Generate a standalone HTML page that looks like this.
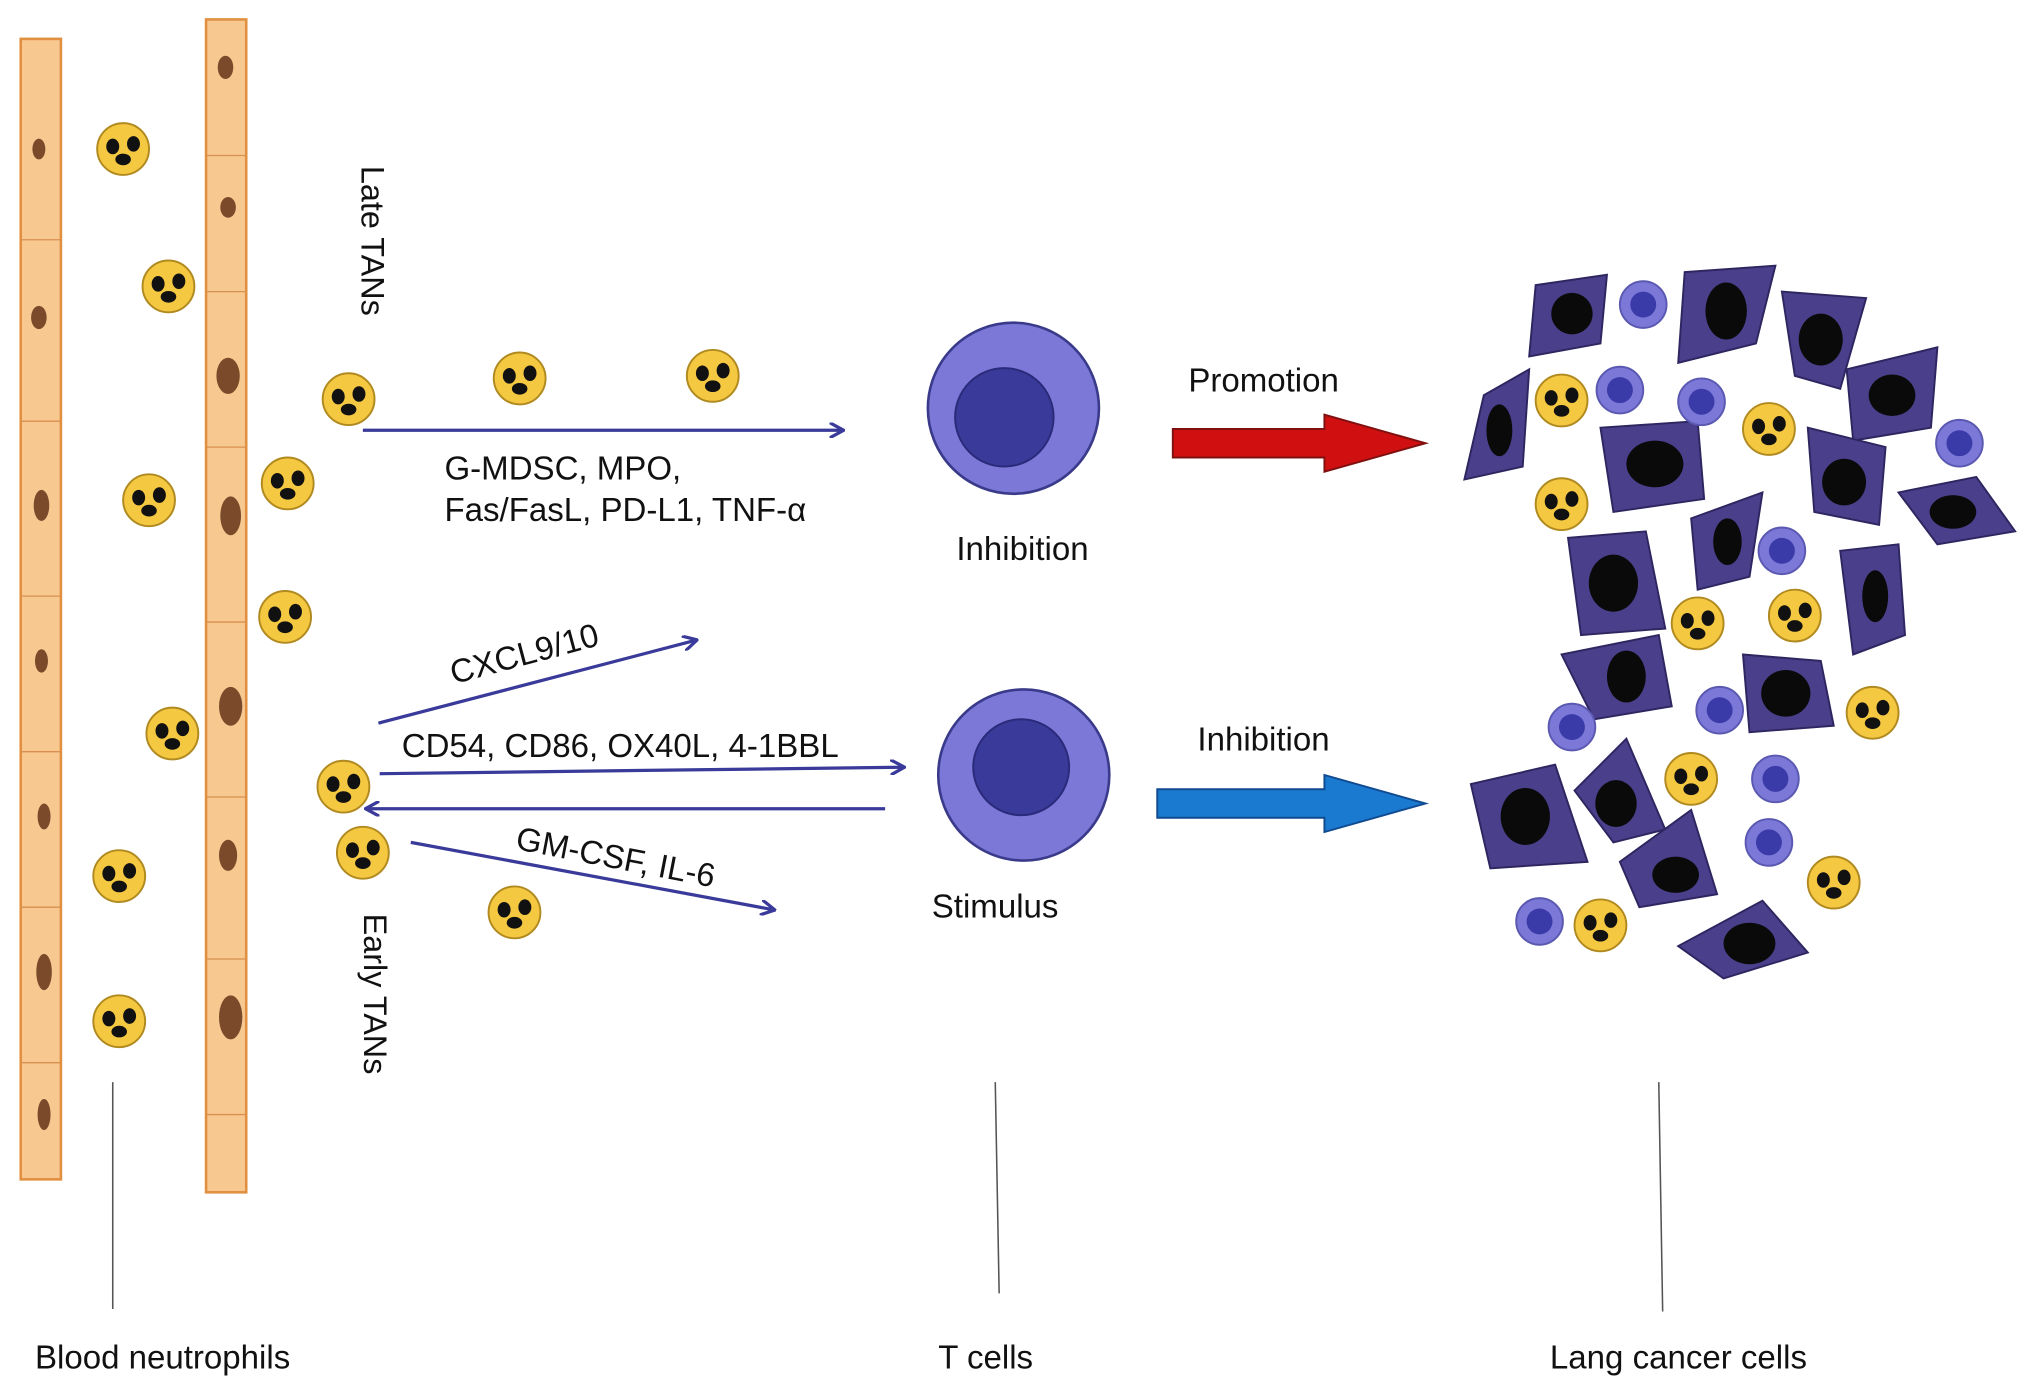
<!DOCTYPE html>
<html><head><meta charset="utf-8"><style>
html,body{margin:0;padding:0;background:#fff;}
svg{display:block;}
text{font-family:"Liberation Sans",sans-serif;fill:#111;}
</style></head><body>
<svg width="2032" height="1388" viewBox="0 0 1568 1071" preserveAspectRatio="none" xmlns="http://www.w3.org/2000/svg">
<defs>
<marker id="ah" markerWidth="12" markerHeight="12" refX="10" refY="6" orient="auto" markerUnits="userSpaceOnUse">
<path d="M0,0 L11,6 L0,12" fill="none" stroke="#3a3a9a" stroke-width="2.5"/>
</marker>
<g id="neu">
<circle r="20" fill="#f5c842" stroke="#b08a20" stroke-width="1.5"/>
<ellipse cx="-8" cy="-2" rx="5" ry="6" fill="#111"/>
<ellipse cx="8" cy="-4" rx="5" ry="6" fill="#111"/>
<ellipse cx="0" cy="8" rx="6" ry="4.5" fill="#111"/>
</g>
<g id="tc">
<circle r="18" fill="#7b78d8" stroke="#5a58b0" stroke-width="1.5"/>
<circle r="10" fill="#3a3aa8"/>
</g>
</defs>
<rect width="1568" height="1071" fill="#fff"/>
<g stroke="#e09040" stroke-width="2">
<rect x="16" y="30" width="31" height="880" fill="#f8c891"/>
<rect x="159" y="15" width="31" height="905" fill="#f8c891"/>
</g>
<g stroke="#d89050" stroke-width="1">
<line x1="16" y1="185" x2="47" y2="185"/><line x1="16" y1="325" x2="47" y2="325"/><line x1="16" y1="460" x2="47" y2="460"/><line x1="16" y1="580" x2="47" y2="580"/><line x1="16" y1="700" x2="47" y2="700"/><line x1="16" y1="820" x2="47" y2="820"/>
<line x1="159" y1="120" x2="190" y2="120"/><line x1="159" y1="225" x2="190" y2="225"/><line x1="159" y1="345" x2="190" y2="345"/><line x1="159" y1="480" x2="190" y2="480"/><line x1="159" y1="615" x2="190" y2="615"/><line x1="159" y1="740" x2="190" y2="740"/><line x1="159" y1="860" x2="190" y2="860"/>
</g>
<g fill="#7a4a2a">
<ellipse cx="30" cy="115" rx="5" ry="8"/><ellipse cx="30" cy="245" rx="6" ry="9"/><ellipse cx="32" cy="390" rx="6" ry="12"/><ellipse cx="32" cy="510" rx="5" ry="9"/><ellipse cx="34" cy="630" rx="5" ry="10"/><ellipse cx="34" cy="750" rx="6" ry="14"/><ellipse cx="34" cy="860" rx="5" ry="12"/>
<ellipse cx="174" cy="52" rx="6" ry="9"/><ellipse cx="176" cy="160" rx="6" ry="8"/><ellipse cx="176" cy="290" rx="9" ry="14"/><ellipse cx="178" cy="398" rx="8" ry="15"/><ellipse cx="178" cy="545" rx="9" ry="15"/><ellipse cx="176" cy="660" rx="7" ry="12"/><ellipse cx="178" cy="785" rx="9" ry="17"/>
</g>
<use href="#neu" x="95" y="115"/><use href="#neu" x="130" y="221"/><use href="#neu" x="269" y="308"/><use href="#neu" x="401" y="292"/><use href="#neu" x="550" y="290"/><use href="#neu" x="115" y="386"/><use href="#neu" x="222" y="373"/><use href="#neu" x="220" y="476"/><use href="#neu" x="133" y="566"/><use href="#neu" x="265" y="607"/><use href="#neu" x="280" y="658"/><use href="#neu" x="92" y="676"/><use href="#neu" x="397" y="704"/><use href="#neu" x="92" y="788"/>
<text transform="translate(279,128) rotate(90)" font-size="25">Late TANs</text>
<text transform="translate(281,705) rotate(90)" font-size="25">Early TANs</text>
<g stroke="#3a3a9a" stroke-width="2.5" fill="none">
<line x1="280" y1="332" x2="650" y2="332" marker-end="url(#ah)"/>
<line x1="292" y1="558" x2="537" y2="494" marker-end="url(#ah)"/>
<line x1="293" y1="597" x2="697" y2="592" marker-end="url(#ah)"/>
<line x1="683" y1="624" x2="283" y2="624" marker-end="url(#ah)"/>
<line x1="317" y1="650" x2="597" y2="702" marker-end="url(#ah)"/>
</g>
<text x="343" y="370" font-size="25.5">G-MDSC, MPO,</text>
<text x="343" y="402" font-size="25.5">Fas/FasL, PD-L1, TNF-α</text>
<text transform="translate(350,528) rotate(-15)" font-size="25.5">CXCL9/10</text>
<text x="310" y="584" font-size="25.5">CD54, CD86, OX40L, 4-1BBL</text>
<text transform="translate(397,655) rotate(11)" font-size="25.5">GM-CSF, IL-6</text>
<circle cx="782" cy="315" r="66" fill="#7b78d8" stroke="#3a3a8a" stroke-width="2"/>
<circle cx="775" cy="322" r="38" fill="#3a3a9a" stroke="#2a2a7a" stroke-width="1.5"/>
<circle cx="790" cy="598" r="66" fill="#7b78d8" stroke="#3a3a8a" stroke-width="2"/>
<circle cx="788" cy="592" r="37" fill="#3a3a9a" stroke="#2a2a7a" stroke-width="1.5"/>
<text x="738" y="432" font-size="25.5">Inhibition</text>
<text x="719" y="708" font-size="25.5">Stimulus</text>
<text x="917" y="302" font-size="25.5">Promotion</text>
<text x="924" y="579" font-size="25.5">Inhibition</text>
<path d="M905,331 L1022,331 L1022,320 L1100,342 L1022,364 L1022,353 L905,353Z" fill="#d01010" stroke="#801010" stroke-width="1.5"/>
<path d="M893,609 L1022,609 L1022,598 L1100,620 L1022,642 L1022,631 L893,631Z" fill="#1a7ad0" stroke="#104a90" stroke-width="1.5"/>
<g fill="#4a3f8a" stroke="#2e2660" stroke-width="1.5">
<polygon points="1185,220 1240,212 1235,265 1180,275"/>
<polygon points="1300,210 1370,205 1355,265 1295,280"/>
<polygon points="1375,225 1440,230 1420,300 1385,290"/>
<polygon points="1425,285 1495,268 1490,330 1430,340"/>
<polygon points="1145,305 1180,285 1175,360 1130,370"/>
<polygon points="1235,330 1310,325 1315,385 1245,395"/>
<polygon points="1395,330 1455,345 1450,405 1400,395"/>
<polygon points="1465,380 1525,368 1555,410 1495,420"/>
<polygon points="1305,400 1360,380 1350,445 1310,455"/>
<polygon points="1210,415 1270,410 1285,485 1220,490"/>
<polygon points="1420,425 1465,420 1470,490 1430,505"/>
<polygon points="1205,505 1280,490 1290,545 1230,555"/>
<polygon points="1345,505 1405,510 1415,560 1350,565"/>
<polygon points="1135,605 1200,590 1225,665 1150,670"/>
<polygon points="1215,610 1255,570 1285,640 1245,650"/>
<polygon points="1250,665 1305,625 1325,690 1265,700"/>
<polygon points="1295,730 1360,695 1395,735 1330,755"/>
</g>
<g fill="#0a0a0a">
<ellipse cx="1213" cy="242" rx="16" ry="16"/><ellipse cx="1332" cy="240" rx="16" ry="22"/><ellipse cx="1405" cy="262" rx="17" ry="20"/><ellipse cx="1460" cy="305" rx="18" ry="16"/><ellipse cx="1157" cy="332" rx="10" ry="20"/><ellipse cx="1277" cy="358" rx="22" ry="18"/><ellipse cx="1423" cy="372" rx="17" ry="18"/><ellipse cx="1507" cy="395" rx="18" ry="13"/><ellipse cx="1333" cy="418" rx="11" ry="18"/><ellipse cx="1245" cy="450" rx="19" ry="22"/><ellipse cx="1447" cy="460" rx="10" ry="20"/><ellipse cx="1255" cy="522" rx="15" ry="20"/><ellipse cx="1378" cy="535" rx="19" ry="18"/><ellipse cx="1177" cy="630" rx="19" ry="22"/><ellipse cx="1247" cy="620" rx="16" ry="18"/><ellipse cx="1293" cy="675" rx="18" ry="14"/><ellipse cx="1350" cy="728" rx="20" ry="16"/>
</g>
<use href="#neu" x="1205" y="309"/><use href="#neu" x="1365" y="331"/><use href="#neu" x="1205" y="389"/><use href="#neu" x="1310" y="481"/><use href="#neu" x="1385" y="475"/><use href="#neu" x="1445" y="550"/><use href="#neu" x="1305" y="601"/><use href="#neu" x="1235" y="714"/><use href="#neu" x="1415" y="681"/>
<use href="#tc" x="1268" y="235"/><use href="#tc" x="1250" y="301"/><use href="#tc" x="1313" y="310"/><use href="#tc" x="1512" y="342"/><use href="#tc" x="1375" y="425"/><use href="#tc" x="1213" y="561"/><use href="#tc" x="1327" y="548"/><use href="#tc" x="1370" y="601"/><use href="#tc" x="1365" y="650"/><use href="#tc" x="1188" y="711"/>
<g stroke="#555" stroke-width="1.2">
<line x1="87" y1="835" x2="87" y2="1010"/>
<line x1="768" y1="835" x2="771" y2="998"/>
<line x1="1280" y1="835" x2="1283" y2="1012"/>
</g>
<text x="27" y="1056" font-size="25.5">Blood neutrophils</text>
<text x="724" y="1056" font-size="25.5">T cells</text>
<text x="1196" y="1056" font-size="25.5">Lang cancer cells</text>
</svg>
</body></html>
